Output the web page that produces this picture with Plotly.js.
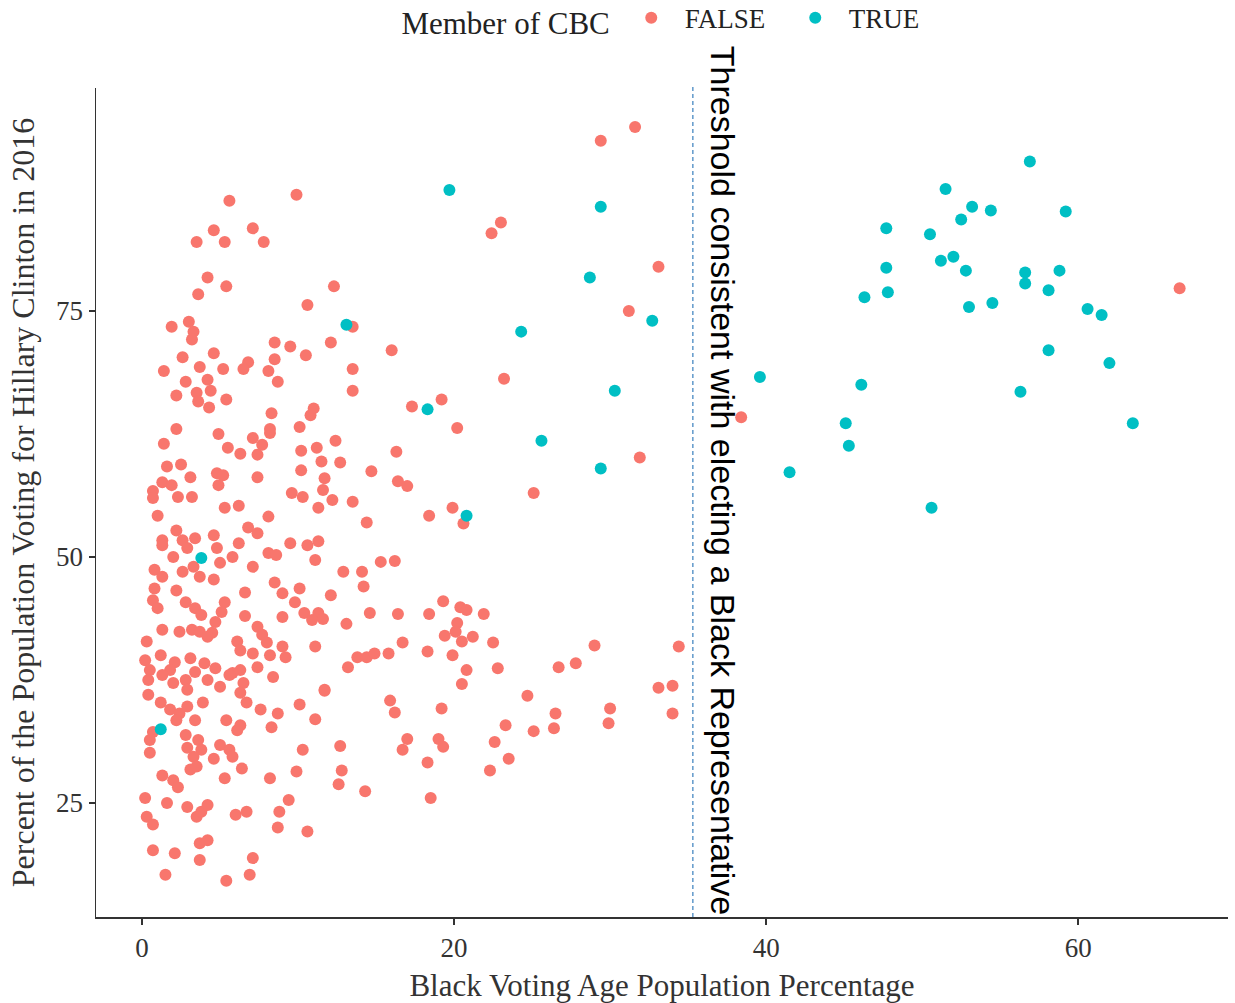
<!DOCTYPE html>
<html><head><meta charset="utf-8">
<script src="https://cdn.plot.ly/plotly-3.0.1.min.js"></script>
<style>html,body{margin:0;padding:0;background:#fff}#chart{width:1235px;height:1003px}</style>
</head><body><div id="chart"></div>
<script>
// Member of CBC = FALSE
const falseX = [
5.6,9.9,4.6,7.1,3.5,5.3,7.8,4.2,3.6,5.4,10.6,1.9,3.0,3.3,3.2,8.5,9.5,10.5,2.6,4.6,1.4,3.7,5.2,6.8,6.5,8.5,8.1,8.7,2.8,4.2,4.4,2.2,3.5,3.6,4.3,5.4,8.3,10.8,11.0,8.2,10.1,
23.0,22.4,12.3,13.5,12.1,16.0,13.5,13.5,17.3,19.2,23.2,20.2,
31.6,29.4,33.1,31.2,31.9,38.4,66.5,
2.2,4.9,7.1,8.2,7.7,1.4,5.5,6.3,10.2,11.2,7.4,1.6,2.5,3.1,4.8,5.2,4.9,7.4,10.2,11.5,11.7,1.3,1.9,0.7,2.3,0.7,3.2,9.6,10.3,11.6,5.3,6.2,11.3,1.0,8.1,6.8,7.4,2.2,4.6,1.3,1.3,2.6,3.4,2.9,2.0,6.2,4.8,9.5,10.6,11.3,8.1,8.6,11.1,7.1,5.8,5.0,0.8,2.6,3.3,3.7,4.6,1.3,2.2,0.8,6.6,8.5,9.0,10.1,0.7,2.8,3.4,3.8,5.3,5.1,1.0,9.8,10.4,11.3,10.9,9.0,6.6,4.7,7.4,1.3,2.4,3.2,3.7,4.5,7.7,4.2,6.1,8.0,11.1,9.0,0.3,6.3,7.1,8.2,9.2,
0.2,1.2,2.1,3.1,4.0,0.5,1.8,3.4,4.7,6.3,5.8,7.4,
0.4,0.4,1.3,2.0,2.8,2.9,4.2,5.0,5.6,6.5,6.3,6.7,7.6,8.4,11.7,10.1,8.7,11.1,3.9,1.2,1.8,2.4,2.9,3.4,2.2,0.5,0.7,0.5,2.8,3.6,2.9,3.8,3.3,4.6,5.0,5.6,5.8,5.4,6.3,6.1,8.3,10.3,6.4,5.3,8.2,9.9,1.3,2.0,2.3,3.1,3.5,0.2,1.6,2.9,3.5,3.8,4.2,0.3,0.7,6.0,6.7,8.7,8.8,9.4,10.6,3.7,4.2,0.7,2.1,3.7,7.1,1.5,5.4,6.9,
12.4,16.3,12.7,14.7,16.4,17.0,12.2,13.5,14.4,18.4,19.9,20.6,15.3,16.2,12.9,14.1,14.2,12.1,19.3,20.4,20.8,14.6,16.4,18.4,21.9,11.6,13.1,20.2,19.4,20.1,21.2,20.5,16.7,22.5,13.8,14.4,14.9,15.8,18.3,19.9,13.2,20.8,22.8,
11.7,20.5,15.9,16.2,19.2,23.3,12.7,17.0,16.7,19.0,19.3,22.6,23.5,18.3,22.3,12.8,12.6,14.3,18.5,
25.1,29.0,34.4,26.7,27.8,24.7,33.1,34.0,30.0,29.9,26.5,34.0,25.1,26.4
];
const falseY = [
86.2,86.8,83.2,83.4,82.0,82.0,82.0,78.4,76.7,77.5,75.6,73.4,73.9,72.9,72.1,71.8,71.4,70.5,70.3,70.7,68.9,69.3,69.1,69.8,69.1,70.1,68.9,67.8,67.8,68.0,66.9,66.4,66.7,65.8,65.2,66.0,64.6,64.4,65.1,63.0,63.2,
84.0,82.9,77.5,73.4,71.8,71.0,69.1,66.9,65.3,66.0,68.1,63.1,
93.7,92.3,79.5,75.0,60.1,64.2,77.3,
63.0,62.5,62.1,62.6,61.4,61.5,61.1,60.5,60.8,61.1,60.4,59.2,59.4,58.1,58.5,58.3,57.3,58.1,58.8,59.7,58.0,57.6,57.3,56.7,56.1,56.0,56.1,56.5,56.1,56.8,55.0,55.2,55.0,54.2,54.1,53.0,52.4,52.7,52.2,51.7,51.2,51.7,51.9,50.9,50.0,51.4,50.9,51.4,51.2,51.6,50.4,50.2,49.7,49.0,50.0,49.4,48.7,48.5,49.0,48.0,47.7,48.0,46.6,46.8,46.4,47.4,46.3,46.8,45.6,45.4,44.8,44.1,45.4,44.4,44.8,45.4,44.3,44.3,43.6,43.9,44.0,43.4,42.9,42.6,42.4,42.6,42.4,42.3,42.1,41.9,41.4,41.3,40.9,40.9,41.4,40.5,40.2,40.0,39.8,
39.5,40.0,39.3,39.7,39.2,38.5,38.5,38.3,38.7,38.5,38.2,38.8,
37.5,36.0,38.0,37.2,37.5,36.5,37.5,36.8,38.0,37.2,36.2,35.2,34.5,37.8,36.4,35.0,34.1,33.5,35.2,35.2,34.5,34.1,34.8,33.4,33.4,31.4,32.2,30.1,31.9,31.4,30.6,30.4,29.7,29.5,30.9,30.4,29.7,33.4,32.9,32.4,32.7,30.4,28.5,27.5,27.5,28.2,27.8,27.3,26.6,28.4,28.7,25.5,25.0,24.6,23.6,24.1,24.8,23.6,22.8,23.8,24.1,22.5,24.1,25.3,22.1,20.9,21.2,20.2,19.9,19.2,19.4,17.7,17.1,17.7,
61.8,60.7,59.6,58.7,57.7,57.2,55.8,55.6,53.5,54.2,55.0,53.4,49.5,49.6,48.5,48.5,47.0,46.1,45.5,44.9,44.6,44.3,44.2,44.2,44.2,43.7,43.2,43.3,42.0,42.4,41.9,41.4,41.3,41.3,39.8,39.8,40.2,40.2,40.4,40.0,38.8,38.5,38.7,
36.5,37.1,35.4,34.2,34.6,32.9,30.8,31.5,30.4,31.5,30.7,31.2,29.5,29.1,28.3,28.3,26.9,26.2,25.5,
56.5,41.0,40.9,38.8,39.2,35.9,36.7,36.9,34.6,33.1,34.1,34.1,32.3,32.6
];
// Member of CBC = TRUE
const trueX = [56.9,51.5,53.2,54.4,59.2,52.5,47.7,50.5,52.0,51.2,52.8,47.7,56.6,56.6,58.8,58.1,47.8,46.3,53.0,54.5,60.6,61.5,58.1,62.0,46.1,56.3,45.1,63.5,45.3,41.5,50.6,39.6,29.4,28.7,32.7,24.3,30.3,25.6,29.4,19.7,13.1,18.3,20.8,3.8,1.2];
const trueY = [90.2,87.4,85.6,85.2,85.1,84.3,83.4,82.8,80.5,80.1,79.1,79.4,78.9,77.8,79.1,77.1,76.9,76.4,75.4,75.8,75.2,74.6,71.0,69.7,67.5,66.8,63.6,63.6,61.3,58.6,55.0,68.3,85.6,78.4,74.0,72.9,66.9,61.8,59.0,87.3,73.6,65.0,54.2,49.9,32.5];

const xTicks = [0, 20, 40, 60];
const yTicks = [25, 50, 75];
const threshold = 35.3;
const thresholdLabel = "Threshold consistent with electing a Black Representative";

const serif = "Liberation Serif, Times New Roman, serif";
const traces = [
  {type:'scatter', mode:'markers', name:'FALSE', x:falseX, y:falseY,
   marker:{color:'#F8766D', size:12}},
  {type:'scatter', mode:'markers', name:'TRUE', x:trueX, y:trueY,
   marker:{color:'#00BFC4', size:12}}
];
const layout = {
  width:1235, height:1003,
  margin:{l:96, r:7, t:88, b:86, autoexpand:false},
  paper_bgcolor:'#fff', plot_bgcolor:'#fff',
  font:{family:serif, color:'#333', size:26},
  showlegend:true,
  legend:{orientation:'h', x:0.268, xanchor:'left', y:1.083, yanchor:'middle',
    itemwidth:57, entrywidth:92,
    title:{text:'Member of CBC', side:'left', font:{family:serif, size:31, color:'#222'}},
    font:{family:serif, size:27, color:'#222'}, bgcolor:'rgba(0,0,0,0)'},
  xaxis:{range:[-2.95, 69.6], tickvals:xTicks, ticktext:xTicks.map(String),
    showline:true, linecolor:'#333', linewidth:1.5, ticks:'outside', ticklen:6, tickwidth:1.5, tickcolor:'#333',
    showgrid:false, zeroline:false, tickfont:{family:serif, size:27, color:'#333'},
    title:{text:'Black Voting Age Population Percentage', font:{family:serif, size:31, color:'#333'}, standoff:12}},
  yaxis:{range:[13.41, 97.66], tickvals:yTicks, ticktext:yTicks.map(String),
    showline:true, linecolor:'#333', linewidth:1.5, ticks:'outside', ticklen:6, tickwidth:1.5, tickcolor:'#333',
    showgrid:false, zeroline:false, tickfont:{family:serif, size:27, color:'#333'},
    title:{text:'Percent of the Population Voting for Hillary Clinton in 2016', font:{family:serif, size:32, color:'#333'}, standoff:12}},
  shapes:[{type:'line', xref:'x', yref:'paper', x0:threshold, x1:threshold, y0:0, y1:1.004,
    line:{color:'#6a9fce', width:1.6, dash:'4px,3px'}}],
  annotations:[{xref:'x', yref:'y', x:37.2, y:57.8, text:thresholdLabel, textangle:90, showarrow:false,
    font:{family:'Liberation Sans, Arial, sans-serif', size:34, color:'#000'}, xanchor:'center', yanchor:'middle'}]
};
Plotly.newPlot('chart', traces, layout, {displayModeBar:false, staticPlot:true});
</script>
</body></html>
